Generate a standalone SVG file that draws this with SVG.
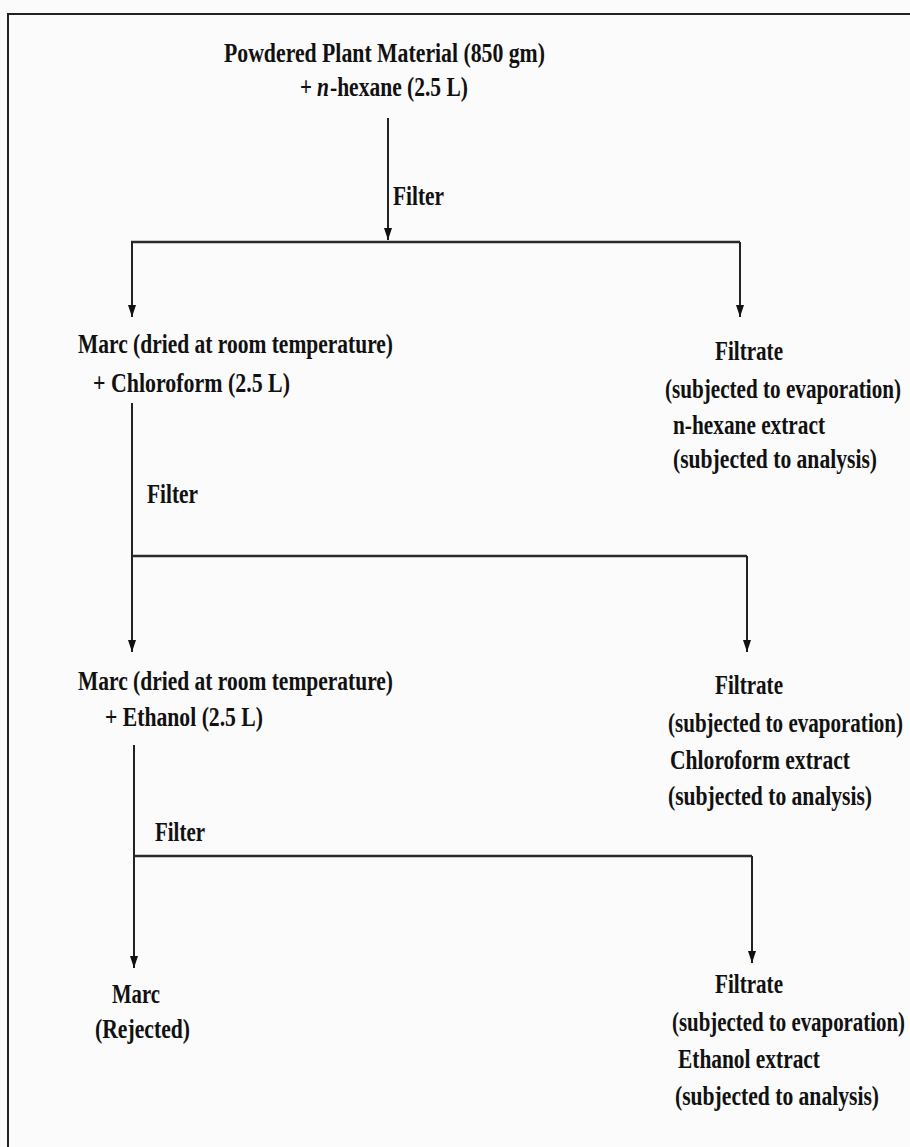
<svg xmlns="http://www.w3.org/2000/svg" width="910" height="1147" viewBox="0 0 910 1147">
<style>
text{font-family:"Liberation Serif","Times New Roman",serif;font-weight:bold;font-size:27px;fill:#111;}
.ln{fill:none;stroke:#222;stroke-width:2;}
.hl{fill:none;stroke:#2a2a2a;stroke-width:2.6;}
</style>
<defs>
<marker id="ah" viewBox="0 0 12 8" refX="12" refY="4" markerWidth="12" markerHeight="8" markerUnits="userSpaceOnUse" orient="auto">
<path d="M0,0 L12,4 L0,8 z" fill="#111"/>
</marker>
</defs>
<rect x="0" y="0" width="910" height="1147" fill="#fbfbfb"/>
<rect x="8" y="14" width="1000" height="1200" fill="none" stroke="#222" stroke-width="2"/>

<g id="connectors">
<path class="ln" d="M388,118 V240" marker-end="url(#ah)"/>
<path class="hl" d="M131,242 H740"/>
<path class="ln" d="M132,242 V317" marker-end="url(#ah)"/>
<path class="ln" d="M740,242 V317" marker-end="url(#ah)"/>
<path class="ln" d="M132,403 V652" marker-end="url(#ah)"/>
<path class="hl" d="M132,556 H747"/>
<path class="ln" d="M747,556 V652" marker-end="url(#ah)"/>
<path class="ln" d="M134,745 V968" marker-end="url(#ah)"/>
<path class="hl" d="M134,856 H752"/>
<path class="ln" d="M752,856 V963" marker-end="url(#ah)"/>
<text transform="translate(393,205) scale(0.75,1)" textLength="68" lengthAdjust="spacingAndGlyphs">Filter</text>
<text transform="translate(147,503) scale(0.75,1)" textLength="68" lengthAdjust="spacingAndGlyphs">Filter</text>
<text transform="translate(155,841) scale(0.75,1)" textLength="66.7" lengthAdjust="spacingAndGlyphs">Filter</text>
</g>

<g id="start">
<text transform="translate(224,62) scale(0.75,1)" textLength="428" lengthAdjust="spacingAndGlyphs">Powdered Plant Material (850 gm)</text>
<text transform="translate(300,96) scale(0.75,1)" textLength="16" lengthAdjust="spacingAndGlyphs">+</text>
<text transform="translate(317,96) scale(0.75,1)" textLength="16" lengthAdjust="spacingAndGlyphs" font-style="italic">n</text>
<text transform="translate(330,96) scale(0.75,1)" textLength="184" lengthAdjust="spacingAndGlyphs">-hexane (2.5 L)</text>
</g>

<g id="marc1">
<text transform="translate(78,353) scale(0.75,1)" textLength="420" lengthAdjust="spacingAndGlyphs">Marc (dried at room temperature)</text>
<text transform="translate(93,392) scale(0.75,1)" textLength="262.7" lengthAdjust="spacingAndGlyphs">+ Chloroform (2.5 L)</text>
</g>

<g id="filtrate1">
<text transform="translate(715,360) scale(0.75,1)" textLength="90.7" lengthAdjust="spacingAndGlyphs">Filtrate</text>
<text transform="translate(665,398) scale(0.75,1)" textLength="314.7" lengthAdjust="spacingAndGlyphs">(subjected to evaporation)</text>
<text transform="translate(673,434) scale(0.75,1)" textLength="202.7" lengthAdjust="spacingAndGlyphs">n-hexane extract</text>
<text transform="translate(673,468) scale(0.75,1)" textLength="272" lengthAdjust="spacingAndGlyphs">(subjected to analysis)</text>
</g>

<g id="marc2">
<text transform="translate(78,690) scale(0.75,1)" textLength="420" lengthAdjust="spacingAndGlyphs">Marc (dried at room temperature)</text>
<text transform="translate(105,726) scale(0.75,1)" textLength="210.7" lengthAdjust="spacingAndGlyphs">+ Ethanol (2.5 L)</text>
</g>

<g id="filtrate2">
<text transform="translate(715,694) scale(0.75,1)" textLength="90.7" lengthAdjust="spacingAndGlyphs">Filtrate</text>
<text transform="translate(668,732) scale(0.75,1)" textLength="313.3" lengthAdjust="spacingAndGlyphs">(subjected to evaporation)</text>
<text transform="translate(670,769) scale(0.75,1)" textLength="240" lengthAdjust="spacingAndGlyphs">Chloroform  extract</text>
<text transform="translate(668,805) scale(0.75,1)" textLength="272" lengthAdjust="spacingAndGlyphs">(subjected to analysis)</text>
</g>

<g id="marc3">
<text transform="translate(112,1003) scale(0.75,1)" textLength="64" lengthAdjust="spacingAndGlyphs">Marc</text>
<text transform="translate(95,1038) scale(0.75,1)" textLength="126.7" lengthAdjust="spacingAndGlyphs">(Rejected)</text>
</g>

<g id="filtrate3">
<text transform="translate(715,993) scale(0.75,1)" textLength="90.7" lengthAdjust="spacingAndGlyphs">Filtrate</text>
<text transform="translate(672,1031) scale(0.75,1)" textLength="310.7" lengthAdjust="spacingAndGlyphs">(subjected to evaporation)</text>
<text transform="translate(678,1068) scale(0.75,1)" textLength="189.3" lengthAdjust="spacingAndGlyphs">Ethanol extract</text>
<text transform="translate(675,1105) scale(0.75,1)" textLength="272" lengthAdjust="spacingAndGlyphs">(subjected to analysis)</text>
</g>
</svg>
